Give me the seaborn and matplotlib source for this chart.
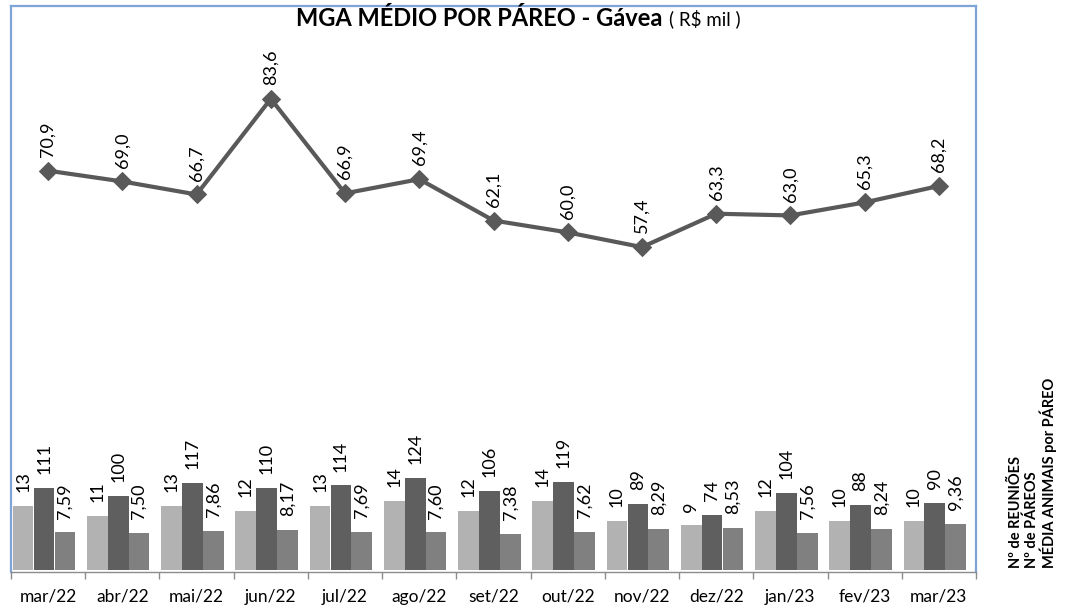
import matplotlib
matplotlib.use("Agg")
import matplotlib.pyplot as plt
import seaborn as sns
import numpy as np

# ---- data ----
months = ["mar/22", "abr/22", "mai/22", "jun/22", "jul/22", "ago/22", "set/22",
          "out/22", "nov/22", "dez/22", "jan/23", "fev/23", "mar/23"]
mga = [70.9, 69.0, 66.7, 83.6, 66.9, 69.4, 62.1, 60.0, 57.4, 63.3, 63.0, 65.3, 68.2]
reunioes = [13, 11, 13, 12, 13, 14, 12, 14, 10, 9, 12, 10, 10]
pareos = [111, 100, 117, 110, 114, 124, 106, 119, 89, 74, 104, 88, 90]
media_animais = [7.59, 7.50, 7.86, 8.17, 7.69, 7.60, 7.38, 7.62, 8.29, 8.53, 7.56, 8.24, 9.36]
legend_labels = ["Nº de REUNIÕES", "Nº de PÁREOS", "MÉDIA ANIMAIS por PÁREO"]
title_bold = "MGA MÉDIO POR PÁREO - Gávea"
title_rest = "( R$ mil )"

sns.set_theme(style="white")
plt.rcParams["font.family"] = ["Lato", "DejaVu Sans"]

W, H = 1091, 607
fig = plt.figure(figsize=(W / 100, H / 100), dpi=100)
L, R, T, B = 11, 976, 6, 572
rect = [L / W, (H - B) / H, (R - L) / W, (B - T) / H]

ax1 = fig.add_axes(rect)          # reunioes + media animais
ax2 = ax1.twinx()                 # pareos
ax3 = ax1.twinx()                 # MGA line

idx = np.arange(len(months))
bw = 0.279
offs = [-0.337, -0.055, 0.226]
c_light, c_dark, c_mid = "#b2b2b2", "#5f5f5f", "#808080"
line_c = "#595959"

def comma(v, nd):
    return f"{v:.{nd}f}".replace(".", ",")

sns.barplot(x=idx + offs[0], y=reunioes, native_scale=True, width=bw,
            color=c_light, saturation=1, edgecolor="none", linewidth=0, ax=ax1)
sns.barplot(x=idx + offs[2], y=media_animais, native_scale=True, width=bw,
            color=c_mid, saturation=1, edgecolor="none", linewidth=0, ax=ax1)
sns.barplot(x=idx + offs[1], y=pareos, native_scale=True, width=bw,
            color=c_dark, saturation=1, edgecolor="none", linewidth=0, ax=ax2)
sns.lineplot(x=idx, y=mga, marker="D", markersize=9, linewidth=3.0,
             color=line_c, markeredgecolor=line_c, ax=ax3)

ax1.set_ylim(-0.4, 114)
ax2.set_ylim(-2.7, 760)
ax3.set_ylim(0, 100)

lab_fs = 13
for i in idx:
    ax1.annotate(str(reunioes[i]), (i + offs[0], reunioes[i]), xytext=(0, 10),
                 textcoords="offset points", rotation=90, ha="center", va="bottom",
                 fontsize=lab_fs, color="black")
    ax2.annotate(str(pareos[i]), (i + offs[1], pareos[i]), xytext=(0, 10),
                 textcoords="offset points", rotation=90, ha="center", va="bottom",
                 fontsize=lab_fs, color="black")
    ax1.annotate(comma(media_animais[i], 2), (i + offs[2], media_animais[i]), xytext=(0, 10),
                 textcoords="offset points", rotation=90, ha="center", va="bottom",
                 fontsize=lab_fs, color="black")
    ax3.annotate(comma(mga[i], 1), (i, mga[i]), xytext=(0, 10),
                 textcoords="offset points", rotation=90, ha="center", va="bottom",
                 fontsize=lab_fs, color="black")

for a in (ax1, ax2, ax3):
    a.set_xlim(-0.5, len(months) - 0.5)
    a.set_ylabel("")
    a.set_xlabel("")
    a.set_yticks([])
    for s in a.spines.values():
        s.set_visible(False)

ax3.set_zorder(3)
ax3.patch.set_visible(False)
ax2.set_zorder(2)
ax2.patch.set_visible(False)

blue = "#7ea3d6"
for s in ("left", "right", "top"):
    ax1.spines[s].set_visible(True)
    ax1.spines[s].set_color(blue)
    ax1.spines[s].set_linewidth(1.6)
ax1.spines["bottom"].set_visible(True)
ax1.spines["bottom"].set_color("#8c8c8c")
ax1.spines["bottom"].set_linewidth(1.0)

ax1.set_xticks(idx)
ax1.set_xticklabels(months, fontsize=12.5, color="black")
ax1.set_xticks(np.arange(-0.5, len(months), 1.0), minor=True)
ax1.tick_params(axis="x", which="major", bottom=True, length=0, pad=12)
ax1.tick_params(axis="x", which="minor", bottom=True, length=5, width=1,
                color="#8c8c8c", direction="out")

fig.text(662 / W, 1 - 19 / H, title_bold, ha="right", va="center",
         fontsize=17, fontweight="bold", color="black")
fig.text(669 / W, 1 - 19 / H, title_rest, ha="left", va="center",
         fontsize=13.5, color="black")

for k, txt in enumerate(legend_labels):
    fig.text((1016 + 16 * k) / W, 1 - 568 / H, txt, rotation=90, ha="center",
             va="bottom", fontsize=10.5, fontweight="bold", color="black")

fig.savefig("out.png", dpi=100)
